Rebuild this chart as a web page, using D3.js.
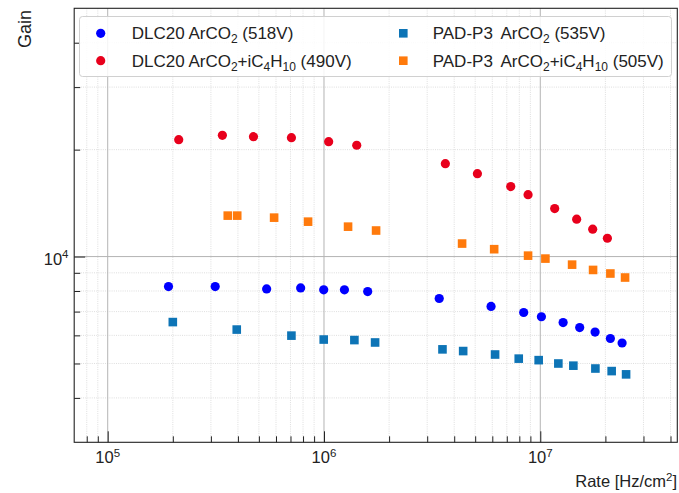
<!DOCTYPE html>
<html>
<head>
<meta charset="utf-8">
<script src="https://cdn.jsdelivr.net/npm/d3@7"></script>
<style>
  html, body { margin: 0; padding: 0; background: #fff; }
  text { font-family: "Liberation Sans", Arial, sans-serif; fill: #222; }
</style>
</head>
<body>
<svg id="chart" width="679" height="493"></svg>
<script>
// ---------- data ----------
const dlcArco2Rate = [1.91e5, 3.14e5, 5.43e5, 7.80e5, 9.97e5, 1.243e6, 1.592e6, 3.41e6, 5.92e6, 8.38e6, 1.012e7, 1.275e7, 1.521e7, 1.792e7, 2.109e7, 2.389e7];
const dlcArco2Gain = [8235, 8235, 8110, 8160, 8060, 8060, 7970, 7620, 7240, 6960, 6770, 6520, 6310, 6130, 5880, 5710];

const dlcIsoRate = [2.13e5, 3.39e5, 4.72e5, 7.07e5, 1.051e6, 1.417e6, 3.64e6, 5.12e6, 7.30e6, 8.78e6, 1.166e7, 1.473e7, 1.747e7, 2.043e7];
const dlcIsoGain = [21330, 21950, 21750, 21610, 21060, 20580, 18260, 17120, 15740, 14940, 13650, 12740, 11940, 11260];

const padArco2Rate = [2.0e5, 3.95e5, 7.07e5, 9.97e5, 1.382e6, 1.723e6, 3.53e6, 4.40e6, 6.18e6, 7.95e6, 9.83e6, 1.212e7, 1.422e7, 1.798e7, 2.138e7, 2.493e7];
const padArco2Gain = [6540, 6230, 5990, 5840, 5820, 5730, 5480, 5420, 5300, 5160, 5110, 5000, 4930, 4840, 4760, 4660];

const padIsoRate = [3.59e5, 3.97e5, 5.88e5, 8.44e5, 1.292e6, 1.741e6, 4.35e6, 6.12e6, 8.78e6, 1.056e7, 1.403e7, 1.754e7, 2.109e7, 2.466e7];
const padIsoGain = [13040, 13040, 12870, 12540, 12140, 11840, 10880, 10490, 10060, 9870, 9490, 9170, 8960, 8730];

const xMajorTicks = [1e5, 1e6, 1e7];
const yMajorTicks = [1e4];
const xDomain = [7e4, 4.3e7];
const yDomain = [3000, 50000];

// legend labels: [prefix, rest-of-label parts]
const seriesPrefix = ["DLC20", "DLC20", "PAD-P3", "PAD-P3"];
const seriesRest = [
  ["ArCO", ["2"], " (518V)"],
  ["ArCO", ["2"], "+iC", ["4"], "H", ["10"], " (490V)"],
  ["ArCO", ["2"], " (535V)"],
  ["ArCO", ["2"], "+iC", ["4"], "H", ["10"], " (505V)"]
];

// ---------- layout ----------
const svg = d3.select("#chart");
const L = 74.2, R = 677.3, T = 8.3, B = 442.3;
const x = d3.scaleLog().domain(xDomain).range([L, R]);
const y = d3.scaleLog().domain(yDomain).range([B, T]);

const series = [
  { rate: dlcArco2Rate, gain: dlcArco2Gain, shape: "circle", color: "#0000ff" },
  { rate: dlcIsoRate, gain: dlcIsoGain, shape: "circle", color: "#e8001c" },
  { rate: padArco2Rate, gain: padArco2Gain, shape: "square", color: "#0d74b6" },
  { rate: padIsoRate, gain: padIsoGain, shape: "square", color: "#ff7a0c" }
];

function minorTicks(domain) {
  const out = [];
  const e0 = Math.floor(Math.log10(domain[0])), e1 = Math.ceil(Math.log10(domain[1]));
  for (let e = e0; e <= e1; e++) {
    for (let m = 2; m <= 9; m++) {
      const v = m * Math.pow(10, e);
      if (v > domain[0] * 1.001 && v < domain[1] * 0.999) out.push(v);
    }
  }
  return out;
}
const xMinor = minorTicks(xDomain);
const yMinor = minorTicks(yDomain);

// ---------- grid ----------
const grid = svg.append("g");
grid.selectAll(".xminor").data(xMinor).enter().append("line")
  .attr("x1", d => x(d)).attr("x2", d => x(d)).attr("y1", T).attr("y2", B)
  .attr("stroke", "#d6d6d6").attr("stroke-width", 0.8).attr("stroke-dasharray", "1,1.2");
grid.selectAll(".yminor").data(yMinor).enter().append("line")
  .attr("x1", L).attr("x2", R).attr("y1", d => y(d)).attr("y2", d => y(d))
  .attr("stroke", "#d6d6d6").attr("stroke-width", 0.8).attr("stroke-dasharray", "1,1.2");
grid.selectAll(".xmajor").data(xMajorTicks).enter().append("line")
  .attr("x1", d => x(d)).attr("x2", d => x(d)).attr("y1", T).attr("y2", B)
  .attr("stroke", "#b4b4b4").attr("stroke-width", 1);
grid.selectAll(".ymajor").data(yMajorTicks).enter().append("line")
  .attr("x1", L).attr("x2", R).attr("y1", d => y(d)).attr("y2", d => y(d))
  .attr("stroke", "#b4b4b4").attr("stroke-width", 1);

// ---------- axes (inward ticks) ----------
const xAxisMajor = d3.axisBottom(x).tickValues(xMajorTicks).tickSize(-11).tickFormat("");
const xAxisMinor = d3.axisBottom(x).tickValues(xMinor).tickSize(-6).tickFormat("");
const yAxisMajor = d3.axisLeft(y).tickValues(yMajorTicks).tickSize(-11).tickFormat("");
const yAxisMinor = d3.axisLeft(y).tickValues(yMinor).tickSize(-6).tickFormat("");

function styleAxis(g) {
  g.select(".domain").remove();
  g.selectAll(".tick line").attr("stroke", "#222").attr("stroke-width", 1);
}
svg.append("g").attr("transform", `translate(0,${B})`).call(xAxisMajor).call(styleAxis);
svg.append("g").attr("transform", `translate(0,${B})`).call(xAxisMinor).call(styleAxis);
svg.append("g").attr("transform", `translate(${L},0)`).call(yAxisMajor).call(styleAxis);
svg.append("g").attr("transform", `translate(${L},0)`).call(yAxisMinor).call(styleAxis);

svg.append("rect").attr("x", L).attr("y", T).attr("width", R - L).attr("height", B - T)
  .attr("fill", "none").attr("stroke", "#222").attr("stroke-width", 1.1);

function powLabel(g, v) {
  const e = Math.round(Math.log10(v));
  g.append("tspan").text("10");
  g.append("tspan").attr("font-size", "11.5px").attr("dy", "-6.5").text(e);
}
svg.selectAll(".xlab").data(xMajorTicks).enter().append("text")
  .attr("x", d => x(d)).attr("y", 463).attr("text-anchor", "middle")
  .attr("font-size", "16.5px")
  .each(function(d) { powLabel(d3.select(this), d); });
svg.selectAll(".ylab").data(yMajorTicks).enter().append("text")
  .attr("x", 68.5).attr("y", d => y(d) + 8).attr("text-anchor", "end")
  .attr("font-size", "16.5px")
  .each(function(d) { powLabel(d3.select(this), d); });

const xt = svg.append("text").attr("x", 677).attr("y", 487).attr("text-anchor", "end").attr("font-size", "16.5px");
xt.append("tspan").text("Rate [Hz/cm");
xt.append("tspan").attr("font-size", "11.5px").attr("dy", "-6.5").text("2");
xt.append("tspan").attr("dy", "6.5").text("]");

svg.append("text").attr("transform", "translate(31,10) rotate(-90)")
  .attr("text-anchor", "end").attr("font-size", "18px").text("Gain");

// ---------- markers ----------
const plot = svg.append("g");
series.forEach(s => {
  const pts = s.rate.map((r, i) => [r, s.gain[i]]);
  if (s.shape === "circle") {
    plot.selectAll(null).data(pts).enter().append("circle")
      .attr("cx", d => x(d[0])).attr("cy", d => y(d[1])).attr("r", 4.6)
      .attr("fill", s.color);
  } else {
    const sz = 8.6;
    plot.selectAll(null).data(pts).enter().append("rect")
      .attr("x", d => x(d[0]) - sz / 2).attr("y", d => y(d[1]) - sz / 2)
      .attr("width", sz).attr("height", sz).attr("fill", s.color);
  }
});

// ---------- legend ----------
const lg = svg.append("g");
lg.append("rect").attr("x", 79.5).attr("y", 16.5).attr("width", 592).attr("height", 60)
  .attr("rx", 3).attr("fill", "rgba(255,255,255,0.85)").attr("stroke", "#d0d0d0").attr("stroke-width", 1);
const legendPos = [
  { mx: 100.7, tx: 131.7, rx: null, cy: 33.3 },
  { mx: 100.7, tx: 131.7, rx: null, cy: 60.7 },
  { mx: 403.3, tx: 432.7, rx: 500.5, cy: 33.3 },
  { mx: 403.3, tx: 432.7, rx: 500.5, cy: 60.7 }
];
series.forEach((s, i) => {
  const p = legendPos[i];
  if (s.shape === "circle") {
    lg.append("circle").attr("cx", p.mx).attr("cy", p.cy).attr("r", 4.6).attr("fill", s.color);
  } else {
    lg.append("rect").attr("x", p.mx - 4.3).attr("y", p.cy - 4.3).attr("width", 8.6).attr("height", 8.6).attr("fill", s.color);
  }
  const t = lg.append("text").attr("x", p.tx).attr("y", p.cy + 6).attr("font-size", "17px");
  t.append("tspan").text(seriesPrefix[i] + (p.rx === null ? " " : ""));
  let shift = 0;
  seriesRest[i].forEach((part, k) => {
    let ts;
    if (Array.isArray(part)) {
      ts = t.append("tspan").attr("font-size", "12px").attr("dy", 4 - shift).text(part[0]);
      shift = 4;
    } else {
      ts = t.append("tspan").attr("dy", -shift).text(part);
      shift = 0;
    }
    if (k === 0 && p.rx !== null) ts.attr("x", p.rx);
  });
});
</script>
</body>
</html>
